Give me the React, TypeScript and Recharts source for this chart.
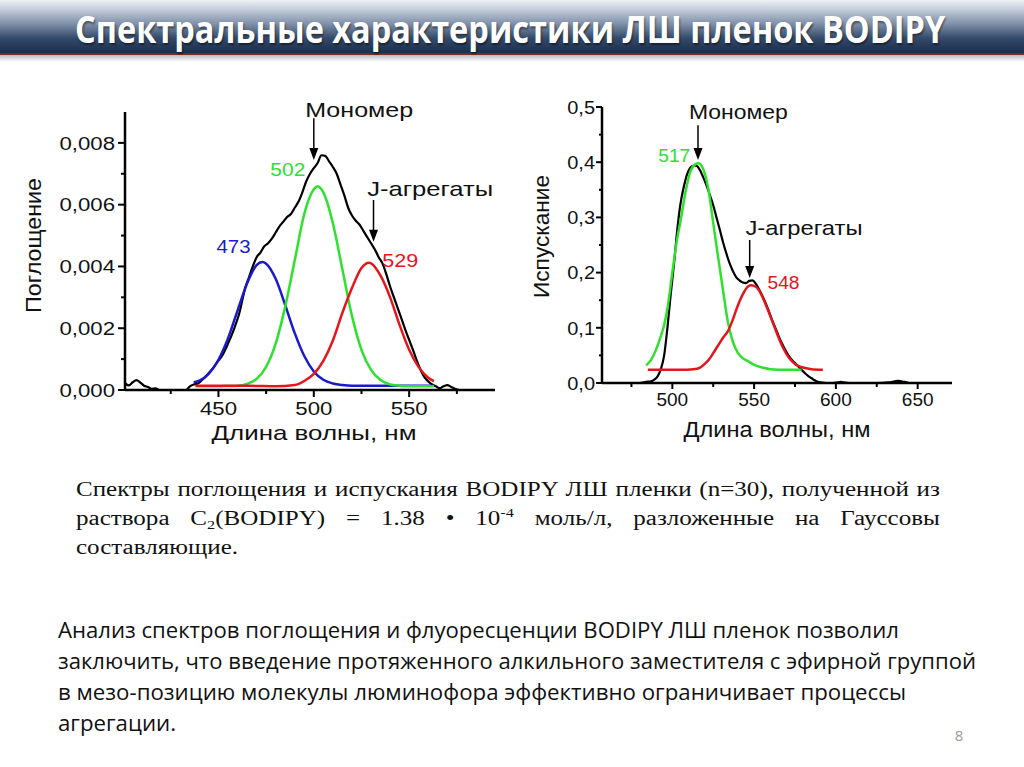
import React, { useLayoutEffect, useRef, useState } from "react";
import {
  LineChart,
  Line,
  XAxis,
  YAxis,
  ReferenceDot,
  ReferenceLine,
} from "recharts";

// ---- absorption panel (left) ----
const absWave = [401, 403, 405, 407, 409, 411, 413, 415, 417, 419, 425, 433, 435, 437, 439, 441, 443, 445, 447, 450, 452, 455, 458, 461, 464, 466, 468, 470, 472, 474, 476, 478, 480, 482, 484, 486, 488, 490, 492, 494, 496, 498, 500, 502, 504, 506, 508, 510, 512, 514, 516, 518, 520, 522, 524, 526, 528, 530, 532, 534, 536, 538, 540, 542, 544, 546, 548, 550, 552, 554, 556, 558, 560, 562, 564, 566, 568, 570, 572, 574, 576];
const absTotal = [0.00022, 0.00015, 0.00025, 0.00032, 0.00024, 0.00014, 0.0001, 0.00004, 0.00005, 0, 0, 0, 0.00012, 0.00018, 0.0002, 0.0003, 0.00042, 0.00055, 0.0007, 0.00095, 0.00112, 0.0015, 0.00195, 0.0025, 0.0033, 0.00365, 0.004, 0.0043, 0.00445, 0.00465, 0.00475, 0.0049, 0.0051, 0.0053, 0.00545, 0.0056, 0.0057, 0.0059, 0.0061, 0.0064, 0.00675, 0.007, 0.00718, 0.00735, 0.0076, 0.00758, 0.0074, 0.00722, 0.007, 0.00665, 0.0063, 0.0059, 0.00565, 0.00548, 0.00535, 0.00515, 0.00495, 0.00475, 0.00455, 0.0043, 0.0041, 0.00375, 0.00335, 0.003, 0.00265, 0.0023, 0.00195, 0.00162, 0.0013, 0.00095, 0.00065, 0.00042, 0.00028, 0.00018, 0.00012, 0.00006, 0.00012, 0.00016, 0.0001, 0.00004, 0];

const abs473Wave = [437, 440, 445, 450, 455, 460, 465, 470, 473, 475, 480, 485, 490, 495, 500, 505, 510, 515, 520, 530, 540, 550, 563];
const abs473 = [0.00024, 0.0003, 0.00053, 0.00098, 0.00167, 0.00257, 0.00345, 0.00404, 0.00414, 0.00409, 0.0036, 0.00275, 0.00184, 0.0011, 0.0006, 0.00033, 0.00021, 0.00016, 0.00014, 0.00014, 0.00014, 0.00014, 0.00014];

const abs502Wave = [438, 445, 450, 455, 460, 465, 470, 475, 480, 485, 490, 495, 500, 502, 505, 510, 515, 520, 525, 530, 535, 540, 545, 550, 555, 563];
const abs502 = [0.00012, 0.00012, 0.00012, 0.00013, 0.00014, 0.0002, 0.00036, 0.00075, 0.0015, 0.0027, 0.0042, 0.0057, 0.0065, 0.0066, 0.0064, 0.0054, 0.0039, 0.0024, 0.0013, 0.00065, 0.00032, 0.00018, 0.00014, 0.00012, 0.00012, 0.00012];

const abs529Wave = [438, 450, 460, 470, 480, 490, 495, 500, 505, 510, 515, 520, 525, 529, 530, 535, 540, 545, 550, 555, 560, 563];
const abs529 = [0.00014, 0.00014, 0.00014, 0.00013, 0.00012, 0.00016, 0.00029, 0.00052, 0.00094, 0.0016, 0.0025, 0.0033, 0.00395, 0.00412, 0.0041, 0.0037, 0.003, 0.0021, 0.0013, 0.00074, 0.0004, 0.00029];

const absTicksX = [425, 450, 475, 500, 525, 550, 575];
const absTicksY = [0, 0.001, 0.002, 0.003, 0.004, 0.005, 0.006, 0.007, 0.008];

// ---- emission panel (right) ----
const emWave = [475, 480, 484, 487, 489, 491, 493, 495, 497, 499, 501, 503, 505, 507, 509, 511, 513, 515, 517, 519, 521, 523, 525, 527, 529, 531, 533, 535, 537, 539, 541, 543, 545, 547, 549, 551, 553, 555, 557, 559, 561, 563, 565, 567, 569, 571, 573, 575, 577, 579, 581, 583, 585, 587, 589, 591, 594, 598, 601, 603, 605, 608, 615, 625, 632, 636, 638, 640, 642, 645, 655, 665, 671];
const emTotal = [0, 0, 0.002, 0.003, 0.006, 0.012, 0.025, 0.05, 0.1, 0.16, 0.215, 0.277, 0.325, 0.355, 0.378, 0.39, 0.394, 0.393, 0.385, 0.372, 0.357, 0.34, 0.322, 0.3, 0.278, 0.255, 0.235, 0.217, 0.203, 0.192, 0.186, 0.182, 0.181, 0.185, 0.186, 0.18, 0.17, 0.158, 0.145, 0.13, 0.114, 0.1, 0.085, 0.072, 0.06, 0.05, 0.042, 0.036, 0.03, 0.024, 0.018, 0.013, 0.009, 0.005, 0.002, 0.001, 0, 0, 0.001, 0.002, 0.001, 0, 0, 0, 0.001, 0.003, 0.004, 0.003, 0.002, 0, 0, 0, 0];

const em517Wave = [484, 487, 490, 493, 495, 497, 500, 503, 505, 508, 511, 514, 516, 518, 520, 522, 525, 528, 531, 534, 537, 540, 543, 546, 550, 555, 560, 570, 579];
const em517 = [0.032, 0.042, 0.06, 0.085, 0.105, 0.135, 0.2, 0.262, 0.293, 0.345, 0.383, 0.396, 0.398, 0.393, 0.378, 0.352, 0.29, 0.228, 0.168, 0.11, 0.075, 0.055, 0.045, 0.04, 0.033, 0.028, 0.025, 0.024, 0.024];

const em548Wave = [485, 495, 505, 513, 517, 520, 523, 525, 528, 531, 534, 537, 540, 543, 546, 548, 550, 553, 556, 559, 562, 565, 568, 571, 574, 577, 580, 585, 592];
const em548 = [0.024, 0.024, 0.024, 0.025, 0.028, 0.035, 0.045, 0.054, 0.068, 0.082, 0.094, 0.115, 0.14, 0.16, 0.174, 0.177, 0.176, 0.168, 0.15, 0.128, 0.105, 0.082, 0.062, 0.047, 0.037, 0.031, 0.028, 0.025, 0.024];

const emTicksX = [475, 500, 525, 550, 575, 600, 625, 650];
const emTicksY = [0, 0.05, 0.1, 0.15, 0.2, 0.25, 0.3, 0.35, 0.4, 0.45, 0.5];

const pts = (xs: number[], ys: number[]) => xs.map((x, i) => ({ x, y: ys[i] }));

const FONT = "'Liberation Sans', Arial, Helvetica, sans-serif";
const BLUE = "#1a1acc";
const GREEN = "#2fe02f";
const RED = "#e4161c";

type TickOpt = {
  major: (v: number) => boolean;
  majorLen: number;
  minorLen: number;
  gap: number;
  size: number;
  sx: number;
  fmt: (v: number) => string;
};

const xTick = (o: TickOpt) => (props: any) => {
  const { x, y, payload } = props;
  const v = payload.value as number;
  const big = o.major(v);
  return (
    <g>
      <line x1={x} x2={x} y1={y} y2={y + (big ? o.majorLen : o.minorLen)} stroke="#000" strokeWidth={2} />
      {big && (
        <text
          transform={`translate(${x},${y + o.gap}) scale(${o.sx},1)`}
          textAnchor="middle"
          fontSize={o.size}
          fontFamily={FONT}
          fill="#111"
        >
          {o.fmt(v)}
        </text>
      )}
    </g>
  );
};

const yTick = (o: TickOpt) => (props: any) => {
  const { x, y, payload } = props;
  const v = payload.value as number;
  const big = o.major(v);
  return (
    <g>
      <line x1={x - (big ? o.majorLen : o.minorLen)} x2={x} y1={y} y2={y} stroke="#000" strokeWidth={2} />
      {big && (
        <text
          transform={`translate(${x - o.gap},${y}) scale(${o.sx},1)`}
          textAnchor="end"
          dy="0.36em"
          fontSize={o.size}
          fontFamily={FONT}
          fill="#111"
        >
          {o.fmt(v)}
        </text>
      )}
    </g>
  );
};

const xTitle = (text: string, dx: number, dy: number, len: number, size: number) => (props: any) => {
  const vb = props.viewBox;
  return (
    <text
      x={vb.x + vb.width / 2 + dx}
      y={vb.y + dy}
      textAnchor="middle"
      fontSize={size}
      fontFamily={FONT}
      fill="#111"
      textLength={len}
      lengthAdjust="spacingAndGlyphs"
    >
      {text}
    </text>
  );
};

const yTitle = (text: string, dx: number, dy: number, len: number, size: number) => (props: any) => {
  const vb = props.viewBox;
  const cx = vb.x + dx;
  const cy = vb.y + vb.height / 2 + dy;
  return (
    <text
      transform={`translate(${cx},${cy}) rotate(-90)`}
      textAnchor="middle"
      dominantBaseline="central"
      fontSize={size}
      fontFamily={FONT}
      fill="#111"
      textLength={len}
      lengthAdjust="spacingAndGlyphs"
    >
      {text}
    </text>
  );
};

const note = (text: string, color: string, size: number, len: number) => (p: any) => (
  <text
    x={p.cx}
    y={p.cy}
    textAnchor="middle"
    fontSize={size}
    fontFamily={FONT}
    fill={color}
    textLength={len}
    lengthAdjust="spacingAndGlyphs"
  >
    {text}
  </text>
);

const arrowHead = (p: any) => (
  <path d={`M${p.cx - 4.5},${p.cy - 12} L${p.cx + 4.5},${p.cy - 12} L${p.cx},${p.cy} Z`} fill="#000" />
);

// title text squeezed to a fixed width with a measured horizontal scale
const FitTitle = ({ text, x, y, width }: { text: string; x: number; y: number; width: number }) => {
  const ref = useRef<SVGTextElement>(null);
  const [sx, setSx] = useState(0.87);
  useLayoutEffect(() => {
    if (ref.current) {
      const w = ref.current.getComputedTextLength();
      if (w > 0) setSx(width / w);
    }
  }, [text, width]);
  return (
    <text
      ref={ref}
      transform={`translate(${x},${y}) scale(${sx},1)`}
      fontFamily="'Open Sans', sans-serif"
      fontWeight={700}
      fontSize={37}
      fill="#ffffff"
      style={{ textShadow: "1px 2px 2px rgba(0,0,0,0.45)" }}
    >
      {text}
    </text>
  );
};

// chart boxes start below the title bar (page y = 60)
const AbsorptionChart = () => (
  <LineChart width={510} height={390} margin={{ top: 52, right: 15, bottom: 0, left: 65 }}>
    <XAxis
      dataKey="x"
      type="number"
      domain={[401, 595]}
      allowDataOverflow
      ticks={absTicksX}
      interval={0}
      height={60}
      tickSize={0}
      tickMargin={0}
      tickLine={false}
      axisLine={{ stroke: "#000", strokeWidth: 2.5 }}
      tick={xTick({ major: (v) => v % 50 === 0, majorLen: 7, minorLen: 4, gap: 25, size: 18.5, sx: 1.2, fmt: (v) => String(v) })}
      label={xTitle("Длина волны, нм", 4, 50, 205, 21)}
    />
    <YAxis
      type="number"
      domain={[0, 0.009]}
      allowDataOverflow
      ticks={absTicksY}
      interval={0}
      width={60}
      tickSize={0}
      tickMargin={0}
      tickLine={false}
      axisLine={{ stroke: "#000", strokeWidth: 2.5 }}
      tick={yTick({
        major: (v) => Math.round(v * 1000) % 2 === 0,
        majorLen: 7,
        minorLen: 4,
        gap: 10,
        size: 18.5,
        sx: 1.2,
        fmt: (v) => v.toFixed(3).replace(".", ","),
      })}
      label={yTitle("Поглощение", -32, -5.5, 135, 22)}
    />
    <Line data={pts(absWave, absTotal)} dataKey="y" type="monotone" stroke="#000" strokeWidth={2.2} dot={false} activeDot={false} isAnimationActive={false} />
    <Line data={pts(abs473Wave, abs473)} dataKey="y" type="monotone" stroke={BLUE} strokeWidth={2.5} dot={false} activeDot={false} isAnimationActive={false} />
    <Line data={pts(abs502Wave, abs502)} dataKey="y" type="monotone" stroke={GREEN} strokeWidth={2.5} dot={false} activeDot={false} isAnimationActive={false} />
    <Line data={pts(abs529Wave, abs529)} dataKey="y" type="monotone" stroke={RED} strokeWidth={2.5} dot={false} activeDot={false} isAnimationActive={false} />

    <ReferenceLine segment={[{ x: 500, y: 0.0088 }, { x: 500, y: 0.0076 }]} stroke="#000" strokeWidth={1.5} ifOverflow="visible" />
    <ReferenceDot x={500} y={0.00745} r={0} ifOverflow="visible" shape={arrowHead} />
    <ReferenceLine segment={[{ x: 531.3, y: 0.00615 }, { x: 531.3, y: 0.0051 }]} stroke="#000" strokeWidth={1.5} ifOverflow="visible" />
    <ReferenceDot x={531.3} y={0.0048} r={0} ifOverflow="visible" shape={arrowHead} />

    <ReferenceDot x={523.8} y={0.00885} r={0} ifOverflow="visible" shape={note("Мономер", "#111", 21, 108)} />
    <ReferenceDot x={561} y={0.00628} r={0} ifOverflow="visible" shape={note("J-агрегаты", "#111", 21, 126)} />
    <ReferenceDot x={457.9} y={0.00443} r={0} ifOverflow="visible" shape={note("473", BLUE, 18, 34)} />
    <ReferenceDot x={486.4} y={0.00693} r={0} ifOverflow="visible" shape={note("502", GREEN, 18, 35)} />
    <ReferenceDot x={545.3} y={0.00399} r={0} ifOverflow="visible" shape={note("529", RED, 18, 36)} />
  </LineChart>
);

const EmissionChart = () => (
  <LineChart width={470} height={383} margin={{ top: 47, right: 18, bottom: 0, left: 42 }}>
    <XAxis
      dataKey="x"
      type="number"
      domain={[457, 671]}
      allowDataOverflow
      ticks={emTicksX}
      interval={0}
      height={60}
      tickSize={0}
      tickMargin={0}
      tickLine={false}
      axisLine={{ stroke: "#000", strokeWidth: 2.5 }}
      tick={xTick({ major: (v) => v % 50 === 0, majorLen: 6, minorLen: 4, gap: 23, size: 19, sx: 1, fmt: (v) => String(v) })}
      label={xTitle("Длина волны, нм", 0, 54, 187, 22)}
    />
    <YAxis
      type="number"
      domain={[0, 0.5]}
      allowDataOverflow
      ticks={emTicksY}
      interval={0}
      width={60}
      tickSize={0}
      tickMargin={0}
      tickLine={false}
      axisLine={{ stroke: "#000", strokeWidth: 2.5 }}
      tick={yTick({
        major: (v) => Math.round(v * 100) % 10 === 0,
        majorLen: 6,
        minorLen: 3,
        gap: 7,
        size: 19,
        sx: 1.05,
        fmt: (v) => v.toFixed(1).replace(".", ","),
      })}
      label={yTitle("Испускание", -1, -8.5, 123, 22)}
    />
    <Line data={pts(emWave, emTotal)} dataKey="y" type="monotone" stroke="#000" strokeWidth={2.2} dot={false} activeDot={false} isAnimationActive={false} />
    <Line data={pts(em517Wave, em517)} dataKey="y" type="monotone" stroke={GREEN} strokeWidth={2.5} dot={false} activeDot={false} isAnimationActive={false} />
    <Line data={pts(em548Wave, em548)} dataKey="y" type="monotone" stroke={RED} strokeWidth={2.5} dot={false} activeDot={false} isAnimationActive={false} />

    <ReferenceLine segment={[{ x: 515.7, y: 0.467 }, { x: 515.7, y: 0.415 }]} stroke="#000" strokeWidth={1.5} ifOverflow="visible" />
    <ReferenceDot x={515.7} y={0.404} r={0} ifOverflow="visible" shape={arrowHead} />
    <ReferenceLine segment={[{ x: 547.3, y: 0.259 }, { x: 547.3, y: 0.2 }]} stroke="#000" strokeWidth={1.5} ifOverflow="visible" />
    <ReferenceDot x={547.3} y={0.19} r={0} ifOverflow="visible" shape={arrowHead} />

    <ReferenceDot x={540.4} y={0.478} r={0} ifOverflow="visible" shape={note("Мономер", "#111", 21, 99)} />
    <ReferenceDot x={580.5} y={0.268} r={0} ifOverflow="visible" shape={note("J-агрегаты", "#111", 21, 117)} />
    <ReferenceDot x={501.2} y={0.401} r={0} ifOverflow="visible" shape={note("517", GREEN, 18, 32)} />
    <ReferenceDot x={568} y={0.17} r={0} ifOverflow="visible" shape={note("548", RED, 18, 32)} />
  </LineChart>
);

const serifLine: React.CSSProperties = {
  whiteSpace: "nowrap",
  textAlign: "justify",
  textAlignLast: "justify",
  height: 29,
};

const App = () => (
  <div
    style={{
      position: "absolute",
      left: 0,
      top: 0,
      width: 1024,
      height: 767,
      background: "#fff",
      overflow: "hidden",
    }}
  >
    {/* title bar */}
    <div
      style={{
        position: "absolute",
        left: 0,
        top: 0,
        width: 1024,
        height: 53,
        background: "linear-gradient(#eef1f6 0%, #c3ccd9 18%, #7f90a8 45%, #344a6a 72%, #1b2d4a 100%)",
      }}
    />
    <div style={{ position: "absolute", left: 0, top: 53, width: 1024, height: 2, background: "#7e2633" }} />
    <div
      style={{
        position: "absolute",
        left: 0,
        top: 55,
        width: 1024,
        height: 7,
        background: "linear-gradient(#b9bcc2, #ffffff)",
      }}
    />

    <svg width={1024} height={767} style={{ position: "absolute", left: 0, top: 0 }}>
      <FitTitle text="Спектральные характеристики ЛШ пленок BODIPY" x={75} y={43} width={870} />

      <g fontFamily="'Open Sans', sans-serif" fontSize={21} fill="#111">
        <text x={58} y={638} textLength={841} lengthAdjust="spacingAndGlyphs">
          Анализ спектров поглощения и флуоресценции BODIPY ЛШ пленок позволил
        </text>
        <text x={58} y={669} textLength={918} lengthAdjust="spacingAndGlyphs">
          заключить, что введение протяженного алкильного заместителя с эфирной группой
        </text>
        <text x={58} y={700} textLength={848} lengthAdjust="spacingAndGlyphs">
          в мезо-позицию молекулы люминофора эффективно ограничивает процессы
        </text>
        <text x={58} y={731} textLength={118} lengthAdjust="spacingAndGlyphs">
          агрегации.
        </text>
      </g>
      <text x={959} y={741} textAnchor="middle" fontFamily="'Open Sans', sans-serif" fontSize={15} fill="#9a9a9a">
        8
      </text>
    </svg>

    {/* caption, Times-like, stretched like the slide */}
    <div
      style={{
        position: "absolute",
        left: 76,
        top: 475,
        width: 690,
        transform: "scaleX(1.252)",
        transformOrigin: "0 0",
        fontFamily: "'Liberation Serif', 'Times New Roman', serif",
        fontSize: 20,
        lineHeight: "29px",
        color: "#111",
      }}
    >
      <div style={serifLine}>Спектры поглощения и испускания BODIPY ЛШ пленки (n=30), полученной из</div>
      <div style={serifLine}>
        раствора C
        <span style={{ fontSize: 13, position: "relative", top: 4 }}>2</span>
        (BODIPY) = 1.38 • 10
        <span style={{ fontSize: 13, position: "relative", top: -8 }}>-4</span> моль/л, разложенные на Гауссовы
      </div>
      <div style={{ whiteSpace: "nowrap", height: 29 }}>составляющие.</div>
    </div>

    <div style={{ position: "absolute", left: 0, top: 60 }}>
      <AbsorptionChart />
    </div>
    <div style={{ position: "absolute", left: 500, top: 60 }}>
      <EmissionChart />
    </div>
  </div>
);

export default App;
